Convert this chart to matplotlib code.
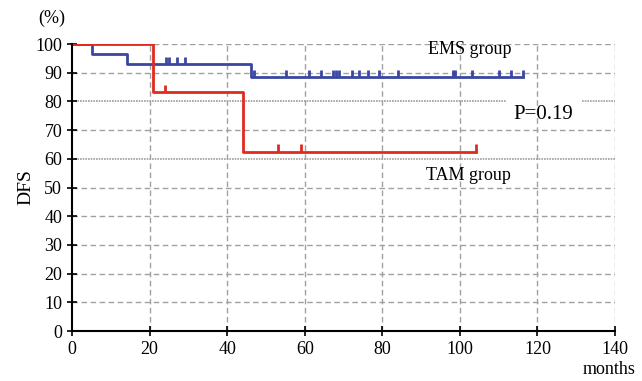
import matplotlib.pyplot as plt

plt.rcParams['font.family'] = ['Liberation Serif', 'DejaVu Serif']

# Kaplan-Meier steps (months, DFS %)
ems_t = [0, 5.2, 14.3, 46.1, 116.3]
ems_s = [100, 96.4, 92.9, 88.4, 88.4]
ems_cens_t = [24.2, 25.1, 27.1, 29.1, 47, 55.2, 61.2, 64.3, 67.3, 68.0, 68.9,
              72.1, 74.1, 76.2, 79.1, 84.1, 98.3, 98.7, 103.2, 110.1, 113.1, 116.3]

tam_t = [0, 21.0, 44.0, 104.1]
tam_s = [100, 83.3, 62.5, 62.5]
tam_cens_t = [24.0, 53.2, 59.0, 104.1]

xticks = [0, 20, 40, 60, 80, 100, 120, 140]
yticks = [0, 10, 20, 30, 40, 50, 60, 70, 80, 90, 100]


def level_at(ts, ss, t):
    v = ss[0]
    for a, b in zip(ts, ss):
        if t >= a:
            v = b
    return v


fig = plt.figure(figsize=(6.42, 3.81), dpi=100)
ax = fig.add_axes([0.1121, 0.1312, 0.8459, 0.7533])

# grid
dot = (0, (1, 0.6))
dash = (0, (4, 2.5))
for y in yticks[1:]:
    if y == 80:
        # gap left open for the p-value text
        ax.hlines([y, y], [0, 131.4], [112, 140], color='#a0a0a0', lw=1.2, ls=dot, zorder=0)
    elif y == 60:
        ax.axhline(y, color='#a0a0a0', lw=1.2, ls=dot, zorder=0)
    else:
        ax.axhline(y, color='#a0a0a0', lw=1.0, ls=dash, zorder=0)
for x in xticks[1:]:
    ax.axvline(x, color='#a0a0a0', lw=1.0, ls=dash, zorder=0)

ax.step(ems_t, ems_s, where='post', color='#3a46a0', lw=2)
ax.step(tam_t, tam_s, where='post', color='#e02a20', lw=2)

ax.vlines(ems_cens_t, [level_at(ems_t, ems_s, t) for t in ems_cens_t],
          [level_at(ems_t, ems_s, t) + 2.5 for t in ems_cens_t], color='#3a46a0', lw=2)
ax.vlines(tam_cens_t, [level_at(tam_t, tam_s, t) for t in tam_cens_t],
          [level_at(tam_t, tam_s, t) + 2.5 for t in tam_cens_t], color='#e02a20', lw=2)

ax.text(102.6, 98.0, 'EMS group', ha='center', va='center', fontsize=13)
ax.text(102.1, 54.3, 'TAM group', ha='center', va='center', fontsize=13)
ax.text(121.6, 75.4, 'P=0.19', ha='center', va='center', fontsize=15)

ax.set_xlim(0, 140)
ax.set_ylim(0, 100)
ax.set_xticks(xticks)
ax.set_yticks(yticks)
ax.tick_params(direction='inout', length=7, width=1.2, labelsize=13)
ax.spines['top'].set_visible(False)
ax.spines['right'].set_visible(False)
ax.spines['left'].set_linewidth(1.5)
ax.spines['bottom'].set_linewidth(1.5)

ax.set_ylabel('DFS', fontsize=14, labelpad=1)
fig.text(52 / 642, 1 - 18 / 381, '(%)', ha='center', va='center', fontsize=13)
fig.text(636 / 642, 1 - 370 / 381, 'months', ha='right', va='center', fontsize=13)

fig.savefig('out.png', dpi=100)
